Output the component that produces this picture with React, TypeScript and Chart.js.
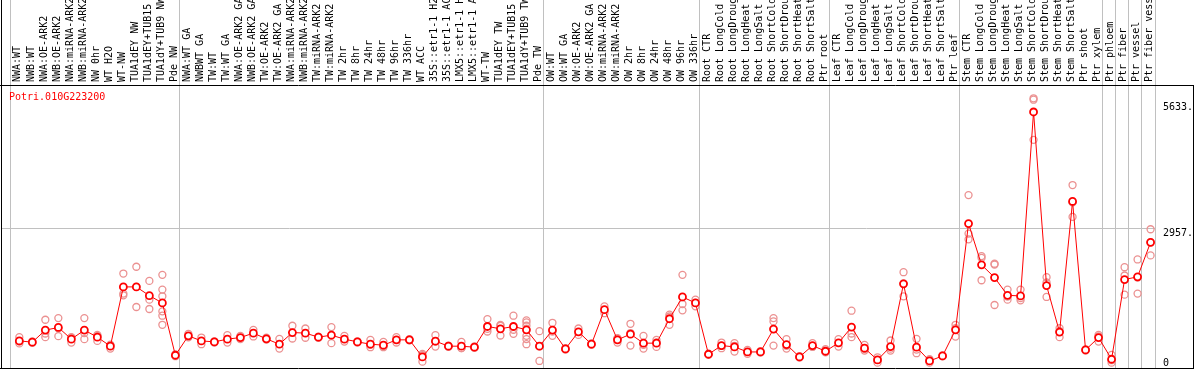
import React, { useEffect, useRef } from 'react';
import { Chart, registerables } from 'chart.js';

Chart.register(...registerables);

const geneId = 'Potri.010G223200';

const categories = [
  'NWA:WT', 'NWB:WT', 'NWA:OE-ARK2', 'NWB:OE-ARK2', 'NWA:miRNA-ARK2', 'NWB:miRNA-ARK2', 'NW 0hr', 'WT H2O', 'WT-NW',
  'TUA1dEY NW', 'TUA1dEY+TUB15 NW', 'TUA1dY+TUB9 NW', 'Pde NW',
  'NWA:WT GA', 'NWBWT GA', 'TW:WT', 'TW:WT GA', 'NWA:OE-ARK2 GA', 'NWB:OE-ARK2 GA', 'TW:OE-ARK2', 'TW:OE-ARK2 GA',
  'NWA:miRNA-ARK2', 'NWB:miRNA-ARK2', 'TW:miRNA-ARK2', 'TW:miRNA-ARK2', 'TW 2hr', 'TW 8hr', 'TW 24hr', 'TW 48hr',
  'TW 96hr', 'TW 336hr', 'WT ACC', '35S::etr1-1 H2O', '35S::etr1-1 ACC', 'LMX5::etr1-1 H2O', 'LMX5::etr1-1 ACC',
  'WT-TW', 'TUA1dEY TW', 'TUA1dEY+TUB15 TW', 'TUA1dY+TUB9 TW', 'Pde TW',
  'OW:WT', 'OW:WT GA', 'OW:OE-ARK2', 'OW:OE-ARK2 GA', 'OW:miRNA-ARK2', 'OW:miRNA-ARK2', 'OW 2hr', 'OW 8hr',
  'OW 24hr', 'OW 48hr', 'OW 96hr', 'OW 336hr',
  'Root CTR', 'Root LongCold', 'Root LongDrought', 'Root LongHeat', 'Root LongSalt', 'Root ShortCold',
  'Root ShortDrought', 'Root ShortHeat', 'Root ShortSalt', 'Ptr root',
  'Leaf CTR', 'Leaf LongCold', 'Leaf LongDrought', 'Leaf LongHeat', 'Leaf LongSalt', 'Leaf ShortCold',
  'Leaf ShortDrought', 'Leaf ShortHeat', 'Leaf ShortSalt', 'Ptr leaf',
  'Stem CTR', 'Stem LongCold', 'Stem LongDrought', 'Stem LongHeat', 'Stem LongSalt', 'Stem ShortCold',
  'Stem ShortDrought', 'Stem ShortHeat', 'Stem ShortSalt', 'Ptr shoot', 'Ptr xylem',
  'Ptr phloem', 'Ptr fiber', 'Ptr vessel', 'Ptr fiber vessel',
];

// index of the first sample of each group (and the end)
const groupStarts = [0, 13, 41, 53, 63, 73, 84, 85, 86, 87, 88];

const meanValues = [
  574, 547, 802, 858, 611, 802, 653, 462, 1717, 1717, 1532, 1377, 270,
  681, 574, 553, 611, 645, 738, 617, 504, 751, 738, 653, 695, 611, 553, 504, 483, 596, 596, 234, 568, 462, 462, 440,
  879, 830, 879, 809, 462,
  802, 404, 766, 504, 1234, 596, 717, 526, 526, 1043, 1504, 1377,
  291, 475, 447, 340, 340, 823, 496, 234, 475, 355,
  532, 866, 419, 170, 454, 1781, 440, 149, 255, 809,
  3058, 2185, 1915, 1539, 1525, 5420, 1745, 760, 3526, 383, 645,
  185, 1873, 1930, 2660,
];

const replicateValues = [
  [653, 520, 560], [565, 535], [1021, 653, 730], [1057, 674, 840], [653, 539, 640], [1057, 611, 740],
  [702, 574, 680], [480, 411, 495], [2000, 1575, 1539], [2143, 1291, 1717], [1844, 1447, 1249],
  [1972, 1660, 1518, 1199, 1107, 915], [250, 290],
  [723, 650], [645, 504], [565, 540], [695, 539], [680, 610], [808, 668], [640, 600], [617, 411], [894, 624],
  [836, 640], [665, 640], [866, 526], [681, 560], [565, 540], [596, 440, 490], [553, 440, 460], [653, 540],
  [610, 585], [134, 300, 270], [695, 454, 560], [475, 450], [553, 420, 420], [455, 425], [1036, 773, 830],
  [894, 688, 910], [1107, 723, 810], [1007, 964, 894, 681, 611, 504], [780, 149, 457],
  [957, 681, 770], [420, 390], [836, 700], [520, 490], [1305, 1160], [620, 539, 630], [936, 475, 740],
  [681, 411, 490], [596, 447, 540], [1128, 915, 1090], [1972, 1355, 1220], [1447, 1305, 1380],
  [305, 280], [539, 419, 470], [526, 347, 470], [383, 300, 340], [355, 325], [1057, 986, 475], [611, 411, 470],
  [250, 220], [526, 450, 450], [397, 330, 340],
  [611, 454], [1213, 653, 730], [490, 369, 400], [227, 113, 170], [582, 369, 410], [2028, 1518, 1790],
  [617, 313, 390], [185, 113, 150], [265, 245], [915, 666, 845],
  [3660, 2845, 2724], [2369, 2330, 1858], [2207, 2190, 1334], [1660, 1447, 1510], [1660, 1433, 1480],
  [5710, 5680, 4830], [1922, 1504, 1810], [845, 653, 780], [3873, 3199, 3506], [395, 370], [702, 560, 670],
  [277, 113, 165], [2134, 1958, 1553], [2298, 1575, 1915], [2937, 2383, 2660],
];

const yTickValues = [0, 2957, 5633];
const yTickLabels = ['0', '2957.', '5633.'];

const FONT = '"DejaVu Sans Mono", monospace';
const POINT_OFFSET = 0.66;
const LABEL_OFFSET = 0.55;
const X_MIN = -0.75;
const X_MAX = 88;
const Y_MAX = 5970;

export default function App() {
  const ref = useRef<HTMLCanvasElement>(null);

  useEffect(() => {
    document.body.style.margin = '0';
    const meanData = meanValues.map((v, i) => ({ x: i + POINT_OFFSET, y: v }));
    const repData = replicateValues.flatMap((arr, i) => arr.map((v) => ({ x: i + POINT_OFFSET, y: v })));

    const framePlugin = {
      id: 'frame',
      afterDraw(chart: any) {
        const { ctx, chartArea, width } = chart;
        ctx.save();
        ctx.strokeStyle = '#000';
        ctx.lineWidth = 1;
        const top = chartArea.top - 0.5;
        const bottom = chartArea.bottom + 0.5;
        ctx.beginPath();
        ctx.moveTo(0, top);
        ctx.lineTo(width, top);
        ctx.moveTo(0, bottom);
        ctx.lineTo(width, bottom);
        ctx.moveTo(chartArea.left + 0.5, 0);
        ctx.lineTo(chartArea.left + 0.5, bottom);
        ctx.moveTo(width - 0.5, top);
        ctx.lineTo(width - 0.5, bottom);
        ctx.stroke();
        ctx.fillStyle = '#ff0000';
        ctx.font = `10px ${FONT}`;
        ctx.textBaseline = 'middle';
        ctx.textAlign = 'left';
        ctx.fillText(geneId, chartArea.left + 8, chartArea.top + 11);
        ctx.restore();
      },
    };

    const chart = new Chart(ref.current as HTMLCanvasElement, {
      type: 'line',
      data: {
        datasets: [
          {
            label: 'mean',
            data: meanData,
            borderColor: '#ff0000',
            borderWidth: 1,
            pointRadius: 3.5,
            pointBorderWidth: 1.8,
            pointBorderColor: '#ff0000',
            pointBackgroundColor: '#ffffff',
            tension: 0,
            order: 0,
          },
          {
            label: 'replicates',
            data: repData,
            showLine: false,
            pointRadius: 3.5,
            pointBorderWidth: 1.3,
            pointBorderColor: 'rgb(235,145,145)',
            pointBackgroundColor: 'rgba(0,0,0,0)',
            order: 1,
          },
        ],
      },
      options: {
        animation: false,
        responsive: false,
        layout: { autoPadding: false, padding: { left: 1, right: 1, top: 0, bottom: 2 } },
        plugins: { legend: { display: false }, tooltip: { enabled: false }, title: { display: false } },
        scales: {
          x: {
            type: 'linear',
            position: 'top',
            min: X_MIN,
            max: X_MAX,
            bounds: 'data',
            weight: 0,
            afterBuildTicks: (s: any) => {
              s.ticks = groupStarts.map((v) => ({ value: v }));
            },
            afterFit: (s: any) => {
              s.height = 0;
              s.paddingLeft = 0;
              s.paddingRight = 0;
            },
            ticks: { display: false },
            grid: { color: '#c0c0c0', lineWidth: 1, drawTicks: true, tickLength: 86 },
            border: { display: false },
          },
          xl: {
            type: 'linear',
            position: 'top',
            min: X_MIN,
            max: X_MAX,
            bounds: 'data',
            weight: 10,
            afterBuildTicks: (s: any) => {
              s.ticks = categories.map((_, i) => ({ value: i + LABEL_OFFSET }));
            },
            afterFit: (s: any) => {
              s.height = 86;
              s.paddingLeft = 0;
              s.paddingRight = 0;
            },
            ticks: {
              autoSkip: false,
              minRotation: 90,
              maxRotation: 90,
              padding: 4,
              labelOffset: 12,
              color: '#000',
              font: { family: FONT, size: 10 },
              callback: (_v: any, idx: number) => categories[idx],
            },
            grid: { display: false, drawTicks: false },
            border: { display: false },
          },
          y: {
            type: 'linear',
            position: 'right',
            min: 0,
            max: Y_MAX,
            afterBuildTicks: (s: any) => {
              s.ticks = yTickValues.map((v) => ({ value: v }));
            },
            afterFit: (s: any) => {
              s.width = 38;
              s.paddingTop = 0;
              s.paddingBottom = 0;
            },
            ticks: {
              padding: 8,
              color: '#000',
              font: { family: FONT, size: 10, lineHeight: 1 },
              callback: (v: any, idx: number) => (v === 0 ? [yTickLabels[idx], ''] : ['', yTickLabels[idx]]),
            },
            grid: { color: ['rgba(0,0,0,0)', '#c0c0c0', 'rgba(0,0,0,0)'], drawTicks: false },
            border: { display: false },
          },
        },
      } as any,
      plugins: [framePlugin],
    });
    return () => chart.destroy();
  }, []);

  return <canvas ref={ref} width={1194} height={370} style={{ display: 'block' }} />;
}
